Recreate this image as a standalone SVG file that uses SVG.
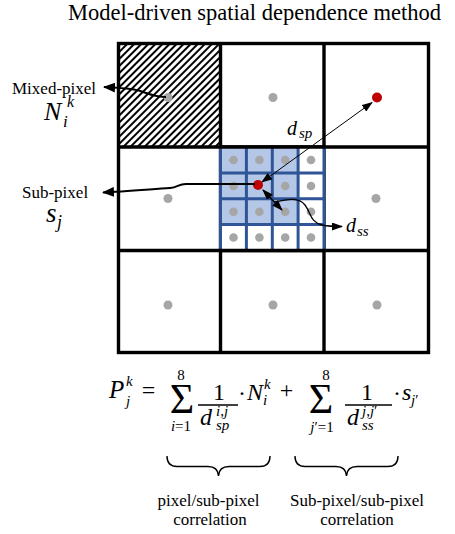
<svg xmlns="http://www.w3.org/2000/svg" width="455" height="534" viewBox="0 0 455 534">
<style>
.t{font-family:"Liberation Serif","Times New Roman","DejaVu Serif",serif;fill:#000}
.m{font-family:"Liberation Serif","DejaVu Serif",serif;font-style:italic;fill:#000}
.up{font-style:normal}
.grid{fill:none;stroke:#000;stroke-width:3.4}
.sub{stroke:#2f5597;stroke-width:3}
.dot{fill:#a6a6a6}
.red{fill:#c00000}
.con{fill:none;stroke:#000}
</style>
<defs>
<pattern id="hatch" width="5" height="5" patternUnits="userSpaceOnUse" patternTransform="rotate(45)">
<rect width="5" height="5" fill="#fff"/>
<line x1="1" y1="0" x2="1" y2="5" stroke="#000" stroke-width="2"/>
</pattern>
<marker id="ah" markerUnits="userSpaceOnUse" markerWidth="12" markerHeight="10" refX="11" refY="5" orient="auto-start-reverse">
<path d="M0,0 L12,5 L0,10 Z" fill="#000"/>
</marker>
<marker id="ahs" markerUnits="userSpaceOnUse" markerWidth="11" markerHeight="8" refX="10" refY="4" orient="auto-start-reverse">
<path d="M0,0 L11,4 L0,8 Z" fill="#000"/>
</marker>
</defs>
<rect width="455" height="534" fill="#fff"/>
<text class="t" x="68" y="20" font-size="22.5">Model-driven spatial dependence method</text>

<g id="pixel-grid">
<rect x="118.5" y="43.5" width="102" height="103.5" fill="url(#hatch)"/>
<rect class="grid" x="118.5" y="43.5" width="310" height="309" stroke-width="3.8"/>
<line class="grid" x1="220.5" y1="43.5" x2="220.5" y2="352.5"/>
<line class="grid" x1="324" y1="43.5" x2="324" y2="352.5"/>
<line class="grid" x1="118.5" y1="147" x2="428.5" y2="147"/>
<line class="grid" x1="118.5" y1="250.5" x2="428.5" y2="250.5"/>
</g>

<g id="sub-pixel-grid">
<rect x="220.5" y="147" width="103.5" height="103.5" fill="#fff"/>
<rect x="220.5" y="147" width="77.6" height="77.6" fill="#b4c7e7"/>
<g class="sub">
<line x1="220.5" y1="147" x2="220.5" y2="250.5"/>
<line x1="246.4" y1="147" x2="246.4" y2="250.5"/>
<line x1="272.3" y1="147" x2="272.3" y2="250.5"/>
<line x1="298.1" y1="147" x2="298.1" y2="250.5"/>
<line x1="324" y1="147" x2="324" y2="250.5"/>
<line x1="220.5" y1="172.9" x2="324" y2="172.9"/>
<line x1="220.5" y1="198.8" x2="324" y2="198.8"/>
<line x1="220.5" y1="224.6" x2="324" y2="224.6"/>
</g>
<line class="grid" x1="219" y1="147" x2="325.5" y2="147"/>
<line class="grid" x1="219" y1="250.5" x2="325.5" y2="250.5"/>
<g class="dot">
<circle cx="233.5" cy="160" r="4.3"/><circle cx="259.4" cy="160" r="4.3"/><circle cx="285.2" cy="160" r="4.3"/><circle cx="311" cy="160" r="4.3"/>
<circle cx="233.5" cy="186" r="4.3"/><circle cx="285.2" cy="186" r="4.3"/><circle cx="311" cy="186" r="4.3"/>
<circle cx="233.5" cy="211.7" r="4.3"/><circle cx="259.4" cy="211.7" r="4.3"/><circle cx="285.2" cy="211.7" r="4.3"/><circle cx="311" cy="211.7" r="4.3"/>
<circle cx="233.5" cy="237.5" r="4.3"/><circle cx="259.4" cy="237.5" r="4.3"/><circle cx="285.2" cy="237.5" r="4.3"/><circle cx="311" cy="237.5" r="4.3"/>
</g>
<circle id="sub-pixel-sj" class="red" cx="258" cy="185" r="5"/>
</g>

<g id="pixel-centers">
<circle id="mixed-pixel-center" class="dot" cx="168" cy="97.5" r="4.5"/>
<circle class="dot" cx="273" cy="97.5" r="4.5"/>
<circle class="red" cx="377" cy="97.5" r="5"/>
<circle class="dot" cx="168" cy="198.5" r="4.5"/>
<circle class="dot" cx="376" cy="198.5" r="4.5"/>
<circle class="dot" cx="168" cy="305" r="4.5"/>
<circle class="dot" cx="273" cy="305" r="4.5"/>
<circle class="dot" cx="377" cy="305" r="4.5"/>
</g>

<g id="connectors">
<path class="con" stroke-width="2" d="M166,97 C152,97 144,91 134,89.5 C124,88 114,87.5 104,87" marker-end="url(#ah)"/>
<path class="con" stroke-width="2" d="M255,184 L186,184 C178,184 178,187.5 170,188 C148,189.5 122,191.5 103,192.5" marker-end="url(#ah)"/>
<line class="con" stroke-width="1" x1="262" y1="182" x2="372" y2="102.5" marker-start="url(#ahs)" marker-end="url(#ahs)"/>
<line class="con" stroke-width="1.4" x1="263" y1="190" x2="282" y2="210" marker-start="url(#ahs)" marker-end="url(#ahs)"/>
<path class="con" stroke-width="1.3" d="M275,202 C288,199 299,197 305,205 C311,213 310,222 322,225 C330,226.5 336,226.5 342,226.5" marker-end="url(#ahs)"/>
</g>

<g id="label-mixed-pixel">
<text class="t" x="12" y="94" font-size="17">Mixed-pixel</text>
<text class="m" x="44" y="120" font-size="26">N</text>
<text class="m" x="67" y="107" font-size="16">k</text>
<text class="m" x="63" y="127" font-size="17">i</text>
</g>
<g id="label-sub-pixel">
<text class="t" x="22" y="198" font-size="17">Sub-pixel</text>
<text class="m" x="46" y="222" font-size="27">s</text>
<text class="m" x="57" y="228" font-size="18">j</text>
</g>
<g id="label-dsp">
<text class="m" x="287" y="135" font-size="20">d</text>
<text class="m" x="299" y="138" font-size="15">sp</text>
</g>
<g id="label-dss">
<text class="m" x="346" y="232" font-size="20">d</text>
<text class="m" x="357" y="236" font-size="15">ss</text>
</g>

<g id="equation">
<text class="m" x="109" y="398" font-size="25">P</text>
<text class="m" x="126" y="386" font-size="15">k</text>
<text class="m" x="126" y="406" font-size="15">j</text>
<text class="t" x="148.5" y="398" font-size="24" text-anchor="middle">=</text>
<text class="t" x="182" y="413" font-size="42" text-anchor="middle">Σ</text>
<text class="t" x="181" y="380" font-size="15" text-anchor="middle">8</text>
<text class="m" x="181" y="431" font-size="15" text-anchor="middle">i<tspan class="up">=1</tspan></text>
<text class="t" x="219" y="400" font-size="24" text-anchor="middle">1</text>
<line x1="198" y1="405" x2="238" y2="405" stroke="#000" stroke-width="1.3"/>
<text class="m" x="200" y="425" font-size="24">d</text>
<text class="m" x="216" y="416" font-size="15">i<tspan class="up">,</tspan>j</text>
<text class="m" x="216" y="430" font-size="15">sp</text>
<text class="t" x="242" y="401" font-size="24" text-anchor="middle">·</text>
<text class="m" x="247" y="400" font-size="24">N</text>
<text class="m" x="264" y="389" font-size="15">k</text>
<text class="m" x="263" y="405" font-size="15">i</text>
<text class="t" x="286.5" y="398" font-size="24" text-anchor="middle">+</text>
<text class="t" x="321" y="413" font-size="42" text-anchor="middle">Σ</text>
<text class="t" x="326" y="380" font-size="15" text-anchor="middle">8</text>
<text class="m" x="322" y="432" font-size="15" text-anchor="middle">j<tspan class="up">′=1</tspan></text>
<text class="t" x="367" y="400" font-size="24" text-anchor="middle">1</text>
<line x1="345" y1="405" x2="392" y2="405" stroke="#000" stroke-width="1.3"/>
<text class="m" x="347" y="425" font-size="24">d</text>
<text class="m" x="362" y="416" font-size="15">j<tspan class="up">,</tspan>j<tspan class="up">′</tspan></text>
<text class="m" x="362" y="430" font-size="15">ss</text>
<text class="t" x="397" y="401" font-size="24" text-anchor="middle">·</text>
<text class="m" x="402" y="400" font-size="24">s</text>
<text class="m" x="411" y="405" font-size="15">j<tspan class="up">′</tspan></text>
</g>

<g id="brace-pixel">
<path class="con" stroke-width="1.4" d="M167,456 Q167,466.5 177,466.5 L208,466.5 Q218,466.5 218.5,476 Q219,466.5 229,466.5 L260,466.5 Q270,466.5 270,456"/>
<text class="t" x="208.5" y="506" font-size="17" text-anchor="middle">pixel/sub-pixel</text>
<text class="t" x="210" y="525" font-size="17" text-anchor="middle">correlation</text>
</g>
<g id="brace-sub-pixel">
<path class="con" stroke-width="1.4" d="M295,456 Q295,466.5 305,466.5 L336,466.5 Q346,466.5 346.5,476 Q347,466.5 357,466.5 L388,466.5 Q398,466.5 398,456"/>
<text class="t" x="357" y="506" font-size="17" text-anchor="middle">Sub-pixel/sub-pixel</text>
<text class="t" x="357" y="525" font-size="17" text-anchor="middle">correlation</text>
</g>
</svg>
